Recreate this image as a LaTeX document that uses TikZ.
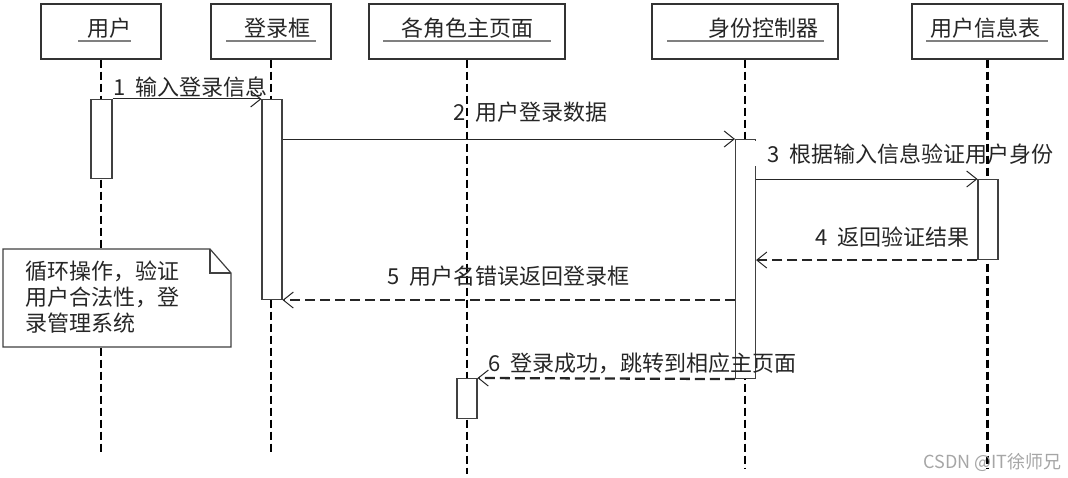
\documentclass[tikz,border=0pt]{standalone}
\usepackage{fontspec}
\newfontfamily\cjk{Noto Sans CJK SC}
\usetikzlibrary{arrows.meta}
\newcommand\dfont{\cjk\fontsize{16.5}{19.5}\selectfont}
\newcommand\msgno[1]{\makebox[1em][l]{#1}}
\begin{document}
\begin{tikzpicture}[x=0.75pt,y=-0.75pt,
  hbox/.style={draw=black!80, line width=1pt, fill=white, minimum height=41.25pt, inner sep=0pt},
  htext/.style={font=\dfont, text=black!85, inner sep=0pt, anchor=base west},
  uline/.style={draw=black!50, line width=0.9pt},
  lifeline/.style={draw=black, line width=1.8pt, dash pattern=on 6pt off 3pt},
  bar/.style={draw=black!75, line width=0.8pt, fill=white, minimum width=15pt, inner sep=0pt, anchor=north},
  msg/.style={draw=black!85, line width=0.75pt, -{Straight Barb[length=7.5pt,width=12pt,line width=0.75pt]}},
  ret/.style={msg, line width=1.7pt, dash pattern=on 7.5pt off 3.75pt},
  lbl/.style={font=\dfont, text=black!85, inner sep=0pt, anchor=base west},
  notebox/.style={draw=black!75, line width=0.9pt, fill=white},
]
\useasboundingbox (0,0) rectangle (1068,478);
% header boxes
\node[hbox, minimum width=90pt]    (h1) at (101,31.5) {};
\node[hbox, minimum width=90pt]    (h2) at (271,31.5) {};
\node[hbox, minimum width=147pt]   (h3) at (467,31.5) {};
\node[hbox, minimum width=139.5pt] (h4) at (745,31.5) {};
\node[hbox, minimum width=113.25pt](h5) at (987.5,31.5) {};
\node[htext] (t1) at (87,37) {用户};
\node[htext] (t2) at (244.5,37) {登录框};
\node[htext] (t3) at (401,37) {各角色主页面};
\node[htext] (t4) at (708,37) {身份控制器};
\node[htext] (t5) at (930,37) {用户信息表};
\draw[uline] (78,41) -- (131,41);
\draw[uline] (226,41) -- (316,41);
\draw[uline] (383,41) -- (551,41);
\draw[uline] (667,41) -- (824,41);
\draw[uline] (926,41) -- (1048,41);
% lifelines
\coordinate (e1) at (101,455);
\coordinate (e2) at (271,455);
\coordinate (e3) at (467,474);
\coordinate (e4) at (745,468);
\coordinate (e5) at (987.5,468);
\draw[lifeline] (h1.south) -- (e1);
\draw[lifeline] (h2.south) -- (e2);
\draw[lifeline] (h3.south) -- (e3);
\draw[lifeline] (h4.south) -- (e4);
% note
\draw[notebox] (3,249) -- (210,249) -- (231,273) -- (231,347) -- (3,347) -- cycle;
\draw[notebox, fill=none] (210,249) -- (210,273) -- (231,273);
\node[font=\dfont, text=black!85, inner sep=0pt, anchor=north west, align=left] (notetxt) at (25,261)
  {循环操作，验证\\用户合法性，登\\录管理系统};
% activation bars
\node[bar, minimum width=15.75pt, minimum height=59.25pt] (b1) at (101.5,99) {};
\node[bar, minimum height=150pt] (b2) at (272,99) {};
\node[bar, minimum height=179.25pt] (b4) at (745.5,139) {};
\node[bar, minimum height=30pt] (b6) at (467,378) {};
% label 3 (white background)
\node[lbl, fill=white, inner xsep=11.25pt, inner ysep=1.5pt] (l3) at (752,162) {\msgno{3}根据输入信息验证用户身份};
\draw[lifeline] (h5.south) -- (e5);
\node[bar, minimum height=60pt] (b5) at (988,179) {};
% messages
\draw[msg] (b1.north east) -- (b2.north west);
\draw[msg] (b2.east |- b4.north) -- (b4.north west);
\draw[msg] (b4.east |- b5.north) -- (b5.north west);
\draw[ret] (b5.south west) -- (b4.east |- b5.south);
\draw[ret] (b4.west |- b2.south) -- (b2.south east);
\draw[ret] (b4.south west) -- (b6.north east);
% labels
\node[lbl] (l1) at (113,96) {\msgno{1}输入登录信息};
\node[lbl] (l2) at (453,121) {\msgno{2}用户登录数据};
\node[lbl] (l4) at (815,245) {\msgno{4}返回验证结果};
\node[lbl] (l5) at (387,284) {\msgno{5}用户名错误返回登录框};
\node[lbl] (l6) at (488,371) {\msgno{6}登录成功，跳转到相应主页面};
% watermark
\node[font=\cjk\fontsize{13.5}{16}\selectfont, text=black!35, inner sep=0pt, anchor=base east] (wm) at (1062,468) {CSDN @IT徐师兄};
\end{tikzpicture}
\end{document}
